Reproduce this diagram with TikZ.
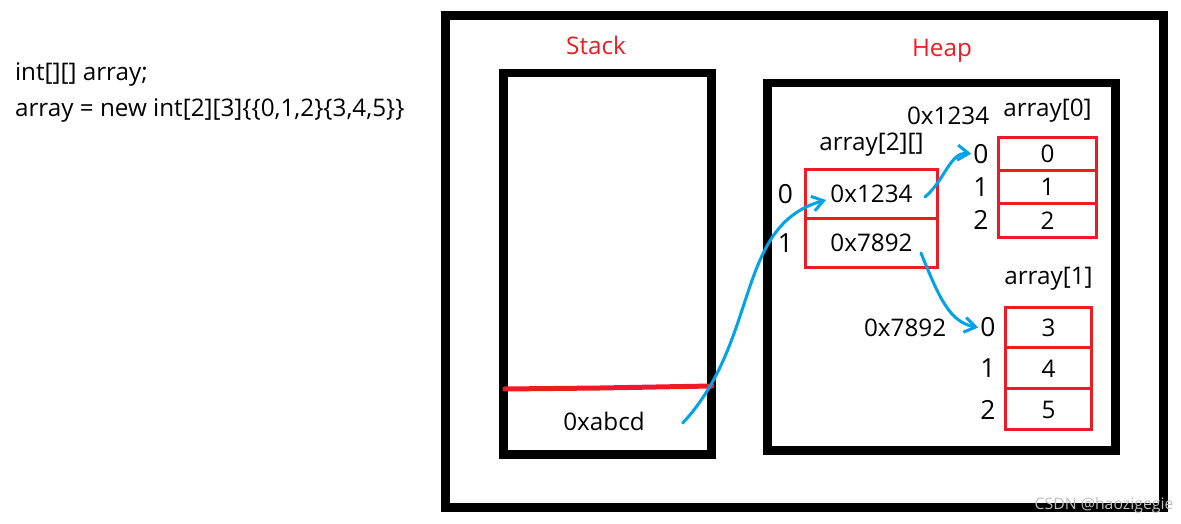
\documentclass[tikz,border=0pt]{standalone}
\usepackage{fontspec}
\setmainfont{Open Sans}
\usetikzlibrary{positioning,calc,arrows.meta}

\definecolor{penred}{RGB}{237,28,36}
\definecolor{penblue}{RGB}{0,162,232}

\tikzset{
  frame/.style={draw=black,line width=0.18cm},
  lbl/.style={font=\fontsize{13.8}{16}\selectfont,inner sep=1pt},
  idx/.style={font=\fontsize{15}{17}\selectfont,inner sep=1pt},
  cell/.style={draw=penred,line width=0.06cm,inner sep=0pt,outer sep=0pt,
    font=\fontsize{13.8}{16}\selectfont},
  ptrcell/.style={cell,minimum width=2.66cm,minimum height=0.98cm},
  rowcell/.style={cell,minimum width=1.98cm,minimum height=0.667cm},
  rowcellb/.style={cell,minimum width=1.74cm,minimum height=0.82cm},
  ptr/.style={draw=penblue,line width=0.06cm,line cap=round,
    -{Straight Barb[length=0.22cm,width=0.3cm]}},
}

\begin{document}
\begin{tikzpicture}[x=0.02cm,y=-0.02cm]
  \useasboundingbox (0,0) rectangle (1181,524);

  % code on the left
  \node[lbl,anchor=west] (decl) at (13,75) {int[][] array;};
  \node[lbl,anchor=west] (init) at (13,111) {array = new int[2][3]\{\{0,1,2\}\{3,4,5\}\}};

  % memory frames
  \draw[frame] (445.5,15.5) rectangle (1163.5,507.5);
  \draw[frame] (503,73) rectangle (711,454);
  \draw[frame] (767,83) rectangle (1115,450);
  \node[lbl,text=penred] (stk) at (596,45) {Stack};
  \node[lbl,text=penred] (hp) at (942,51) {Heap};

  % stack slot
  \draw[penred,line width=0.1cm,line cap=round] (505,389) -- (600,388) -- (712,386);
  \node[lbl] (sv) at (604,421) {0xabcd};

  % array[2][]
  \node[ptrcell] (p0) at (871.5,194) {0x1234};
  \node[ptrcell,below=0pt of p0] (p1) {0x7892};
  \node[lbl,above=0.22cm of p0] (pname) {array[2][]};
  \node[idx,left=0.2cm of p0] (j0) {0};
  \node[idx,left=0.2cm of p1] (j1) {1};

  % array[0]
  \node[rowcell] (a00) at (1047.5,153.7) {0};
  \node[rowcell,below=0pt of a00] (a01) {1};
  \node[rowcell,below=0pt of a01] (a02) {2};
  \node[lbl,above=0.26cm of a00] (aname0) {array[0]};
  \node[lbl,left=0.2cm of aname0,yshift=-0.12cm] (addr0) {0x1234};
  \node[idx,left=0.15cm of a00] (i00) {0};
  \node[idx,left=0.15cm of a01] (i01) {1};
  \node[idx,left=0.15cm of a02] (i02) {2};

  % array[1]
  \node[rowcellb] (a10) at (1048.5,327.5) {3};
  \node[rowcellb,below=0pt of a10] (a11) {4};
  \node[rowcellb,below=0pt of a11] (a12) {5};
  \node[lbl,above=0.3cm of a10] (aname1) {array[1]};
  \node[idx,left=0.15cm of a10] (i10) {0};
  \node[idx,left=0.15cm of a11] (i11) {1};
  \node[idx,left=0.15cm of a12] (i12) {2};
  \node[lbl,left=0.6cm of i10] (addr1) {0x7892};

  % references
  \draw[ptr] ($(sv.east)+(36,2)$) .. controls (760,340) and (735,225) .. ($(p0.west)+(21,6)$);
  \draw[ptr] ($(p0.east)+(-13,3)$) .. controls (945,180) and (950,152) .. (i00.west);
  \draw[ptr] ($(p1.east)+(-17,10)$) .. controls (940,300) and (950,322) .. (i10.west);

  % watermark
  \node[font=\fontsize{9}{10}\selectfont,text=black!25,inner sep=0pt] (wm) at (1104,505) {CSDN @haozigegie};
\end{tikzpicture}
\end{document}
